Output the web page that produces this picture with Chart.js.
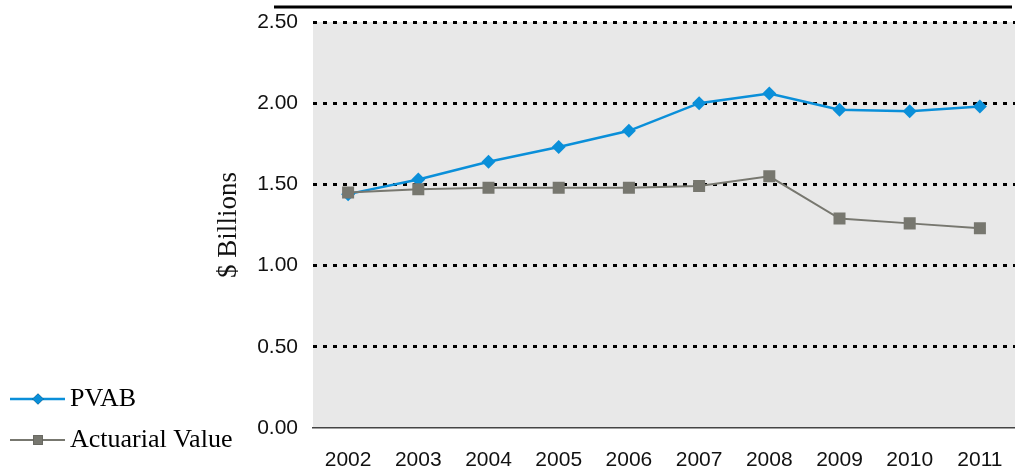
<!DOCTYPE html>
<html>
<head>
<meta charset="utf-8">
<script src="https://cdn.jsdelivr.net/npm/chart.js@4"></script>
<style>
html,body{margin:0;padding:0;background:#fff;}
#wrap{width:1015px;height:472px;position:relative;}
</style>
</head>
<body>
<div id="wrap"><canvas id="c"></canvas></div>
<script>
const years = ['2002','2003','2004','2005','2006','2007','2008','2009','2010','2011'];
const pvab = [1.44, 1.53, 1.64, 1.73, 1.83, 2.00, 2.06, 1.96, 1.95, 1.98];
const actuarial = [1.45, 1.47, 1.48, 1.48, 1.48, 1.49, 1.55, 1.29, 1.26, 1.23];
const yTicks = [0, 0.5, 1.0, 1.5, 2.0, 2.5];
const seriesNames = ['PVAB', 'Actuarial Value'];

const BLUE = '#0a8fd9';
const GRAY = '#77776f';

const bgPlugin = {
  id: 'bg',
  beforeDraw(chart) {
    const {ctx, chartArea: a} = chart;
    ctx.save();
    ctx.fillStyle = '#e8e8e8';
    ctx.fillRect(a.left, a.top, a.right - a.left, a.bottom - a.top);
    ctx.restore();
  },
  afterDraw(chart) {
    const {ctx, chartArea: a} = chart;
    ctx.save();
    ctx.strokeStyle = '#000';
    ctx.lineWidth = 3;
    ctx.beginPath();
    ctx.moveTo(274, a.top - 15);
    ctx.lineTo(a.right - 3, a.top - 15);
    ctx.stroke();
    ctx.restore();
  }
};

const legendPlugin = {
  id: 'customLegend',
  afterDraw(chart) {
    const ctx = chart.ctx;
    const rows = [399, 440];
    chart.data.datasets.forEach((ds, i) => {
      const y = rows[i];
      ctx.save();
      ctx.strokeStyle = ds.borderColor;
      ctx.lineWidth = ds.borderWidth;
      ctx.beginPath();
      ctx.moveTo(10, y);
      ctx.lineTo(65, y);
      ctx.stroke();
      Chart.helpers.drawPoint(ctx, {
        pointStyle: ds.pointStyle,
        radius: ds.pointRadius * 0.8,
        borderWidth: 0
      }, 38, y);
      ctx.fillStyle = ds.pointBackgroundColor;
      ctx.fill();
      ctx.fillStyle = '#000';
      ctx.font = '26px "Liberation Serif"';
      ctx.textBaseline = 'middle';
      ctx.textAlign = 'left';
      ctx.fillText(ds.label, 70, y);
      ctx.restore();
    });
  }
};

new Chart(document.getElementById('c'), {
  type: 'line',
  data: {
    labels: years,
    datasets: [
      {
        label: seriesNames[0],
        data: pvab,
        order: 1,
        borderColor: BLUE,
        backgroundColor: BLUE,
        pointBackgroundColor: BLUE,
        pointBorderColor: BLUE,
        borderWidth: 2.5,
        pointStyle: 'rectRot',
        pointRadius: 7,
        pointBorderWidth: 0,
        tension: 0
      },
      {
        label: seriesNames[1],
        data: actuarial,
        order: 0,
        borderColor: GRAY,
        backgroundColor: GRAY,
        pointBackgroundColor: GRAY,
        pointBorderColor: GRAY,
        borderWidth: 2,
        pointStyle: 'rect',
        pointRadius: 8.5,
        pointBorderWidth: 0,
        tension: 0
      }
    ]
  },
  options: {
    responsive: true,
    maintainAspectRatio: false,
    animation: false,
    devicePixelRatio: 1,
    layout: { autoPadding: false, padding: { left: 200, top: 22, right: 0, bottom: 0 } },
    plugins: {
      legend: { display: false },
      tooltip: { enabled: false }
    },
    scales: {
      x: {
        offset: true,
        grid: { display: false, drawTicks: false },
        border: { display: true, color: '#444', width: 1.5 },
        ticks: {
          color: '#111',
          font: { family: '"Liberation Sans"', size: 21 },
          padding: 20,
          maxRotation: 0,
          autoSkip: false
        },
        afterFit(s) { s.height = 44; s.paddingLeft = 0; s.paddingRight = 0; }
      },
      y: {
        min: 0,
        max: 2.5,
        afterBuildTicks(s) { s.ticks = yTicks.map(v => ({ value: v })); },
        grid: {
          drawTicks: false,
          color: ctx => ctx.tick && ctx.tick.value === 0 ? 'rgba(0,0,0,0)' : '#000',
          lineWidth: 3
        },
        border: { display: false, dash: [4, 6] },
        ticks: {
          color: '#111',
          font: { family: '"Liberation Sans"', size: 21 },
          padding: 15,
          callback: v => Number(v).toFixed(2)
        },
        title: {
          display: true,
          text: '$ Billions',
          color: '#111',
          font: { family: '"Liberation Serif"', size: 27, lineHeight: 1 },
          padding: { top: 15, bottom: 0 }
        },
        afterFit(s) { s.width = 113; s.paddingTop = 0; s.paddingBottom = 0; }
      }
    }
  },
  plugins: [bgPlugin, legendPlugin]
});
</script>
</body>
</html>
